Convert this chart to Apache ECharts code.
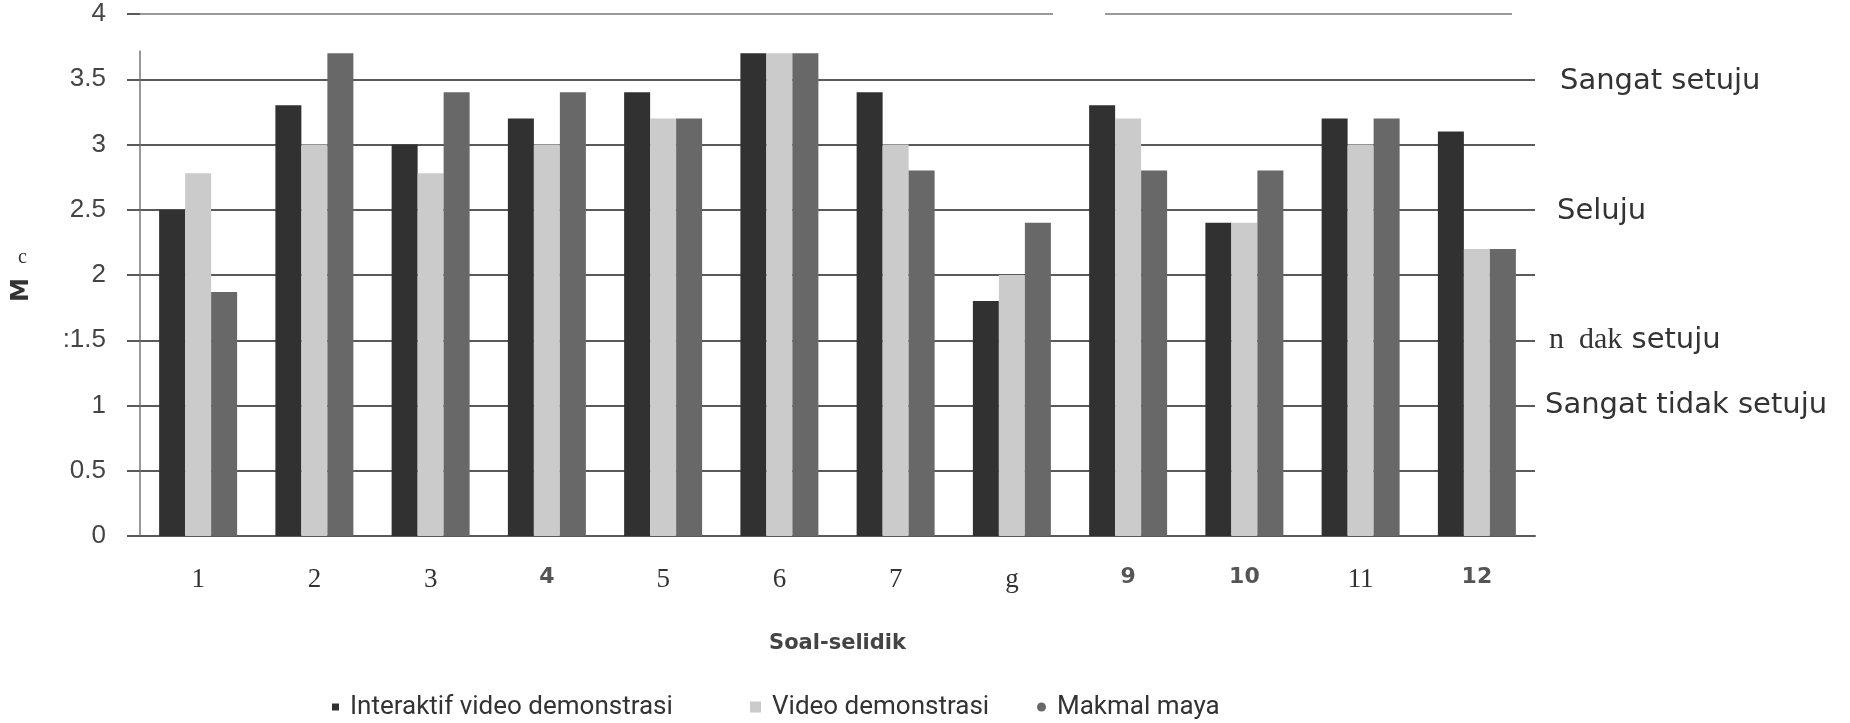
<!DOCTYPE html>
<html>
<head>
<meta charset="utf-8">
<script src="https://cdn.jsdelivr.net/npm/echarts@6/dist/echarts.min.js"></script>
<style>
html,body{margin:0;padding:0;background:#fff;}
#chart{width:1850px;height:723px;}
</style>
</head>
<body>
<div id="chart"></div>
<script>
// ---- data ----
const categories = ['1','2','3','4','5','6','7','g','9','10','11','12'];
const sansCategories = ['4','9','10','12'];
const seriesNames = ['Interaktif video demonstrasi','Video demonstrasi','Makmal maya'];
const interaktif = [2.5, 3.3, 3.0, 3.2, 3.4, 3.7, 3.4, 1.8, 3.3, 2.4, 3.2, 3.1];
const video      = [2.78, 3.0, 2.78, 3.0, 3.2, 3.7, 3.0, 2.0, 3.2, 2.4, 3.0, 2.2];
const makmal     = [1.87, 3.7, 3.4, 3.4, 3.2, 3.7, 2.8, 2.4, 2.8, 2.8, 3.2, 2.2];
const yTickLabels = ['0','0.5','1',':1.5','2','2.5','3','3.5','4'];
const scaleLabels = {'3.5':'Sangat setuju','2.5':'Seluju','1.5':'n  dak|setuju','1':'Sangat tidak setuju'};
const yTitle = 'M';
const yTitleSup = 'c';
const xTitle = 'Soal-selidik';

const colors = ['#313131','#cbcbcb','#686868'];
const gridColor = '#5a5a5a';
const legendText = {fontFamily: 'Roboto', fontSize: 26, color: '#333', padding: [0, 0, 0, 6]};

const chart = echarts.init(document.getElementById('chart'));
const option = {
  backgroundColor: '#ffffff',
  animation: false,
  grid: {left: 140, right: 315, top: 14, bottom: 187, containLabel: false, outerBoundsMode: 'none'},
  legend: [
    {data: [{name: seriesNames[0], icon: 'rect'}], left: 327, top: 689, itemWidth: 7, itemHeight: 7, textStyle: legendText},
    {data: [{name: seriesNames[1], icon: 'rect'}], left: 745, top: 689, itemWidth: 11, itemHeight: 11, textStyle: legendText},
    {data: [{name: seriesNames[2], icon: 'circle'}], left: 1032, top: 689, itemWidth: 9, itemHeight: 9, textStyle: legendText}
  ],
  xAxis: {
    type: 'category',
    data: categories,
    axisLine: {show: true, lineStyle: {color: gridColor, width: 2}},
    axisTick: {show: false},
    axisLabel: {
      margin: 30,
      formatter: function (v) { return sansCategories.indexOf(v) >= 0 ? '{b|' + v + '}' : '{s|' + v + '}'; },
      rich: {
        s: {fontFamily: 'Liberation Serif', fontSize: 27, color: '#333'},
        b: {fontFamily: 'DejaVu Sans', fontWeight: 'bold', fontSize: 22, color: '#555'}
      }
    },
    name: xTitle,
    nameLocation: 'middle',
    nameGap: 97,
    nameTextStyle: {fontFamily: 'DejaVu Sans', fontWeight: 'bold', fontSize: 21, color: '#444'}
  },
  yAxis: [
    {
      type: 'value', min: 0, max: 4, interval: 0.5,
      axisLine: {show: false},
      axisTick: {show: true, inside: false, length: 13, lineStyle: {color: gridColor, width: 2}},
      splitLine: {show: true, showMaxLine: false, lineStyle: {color: gridColor, width: 2}},
      axisLabel: {
        margin: 34,
        formatter: function (v) { return yTickLabels[Math.round(v / 0.5)]; },
        fontFamily: 'Liberation Sans', fontSize: 26, color: '#444'
      },
      name: yTitle,
      nameLocation: 'middle',
      nameRotate: 90,
      nameGap: 106,
      nameTextStyle: {fontFamily: 'DejaVu Sans', fontWeight: 'bold', fontSize: 24, color: '#333', padding: [0, 30, 0, 0]}
    },
    {
      type: 'value', min: 0, max: 4, interval: 0.5, position: 'right',
      axisLine: {show: false}, axisTick: {show: false}, splitLine: {show: false},
      axisLabel: {
        margin: 10,
        formatter: function (v) {
          const t = scaleLabels[String(v)];
          if (!t) return '';
          if (v === 3.5) return '{a|' + t + '}';
          if (v === 2.5) return '{b|' + t + '}';
          if (v === 1.5) { const p = t.split('|'); return '{r|' + p[0] + '}{d| ' + p[1] + '}'; }
          return '{d|' + t + '}';
        },
        rich: {
          a: {fontFamily: 'DejaVu Sans', fontSize: 29, color: '#333', padding: [4, 0, 0, 15]},
          b: {fontFamily: 'DejaVu Sans', fontSize: 29, color: '#333', padding: [4, 0, 0, 12]},
          d: {fontFamily: 'DejaVu Sans', fontSize: 29, color: '#333'},
          r: {fontFamily: 'Liberation Serif', fontSize: 30, color: '#333', padding: [0, 0, 0, 4]}
        }
      }
    }
  ],
  series: [
    {name: seriesNames[0], type: 'bar', data: interaktif, barWidth: 26, barGap: '0%', itemStyle: {color: colors[0]}},
    {name: seriesNames[1], type: 'bar', data: video, barWidth: 26, barGap: '0%', itemStyle: {color: colors[1]}},
    {name: seriesNames[2], type: 'bar', data: makmal, barWidth: 26, barGap: '0%', itemStyle: {color: colors[2]}}
  ]
};
chart.setOption(option);

// decorations: top (4) line with a gap, plot-area left border, superscript
const yTop = chart.convertToPixel({yAxisIndex: 0}, 4);
const yZero = chart.convertToPixel({yAxisIndex: 0}, 0);
const yFrame = chart.convertToPixel({yAxisIndex: 0}, 3.72);
chart.setOption({
  graphic: [
    {type: 'line', shape: {x1: 127, y1: yTop, x2: 1053, y2: yTop}, style: {stroke: '#9a9a9a', lineWidth: 2}, silent: true},
    {type: 'line', shape: {x1: 1105, y1: yTop, x2: 1512, y2: yTop}, style: {stroke: '#9a9a9a', lineWidth: 2}, silent: true},
    {type: 'line', shape: {x1: 140, y1: yFrame, x2: 140, y2: yZero}, style: {stroke: '#777', lineWidth: 1.5}, silent: true},
    {type: 'text', left: 18, top: 248, style: {text: yTitleSup, font: '20px "Liberation Serif"', fill: '#333'}, silent: true}
  ]
});
</script>
</body>
</html>
